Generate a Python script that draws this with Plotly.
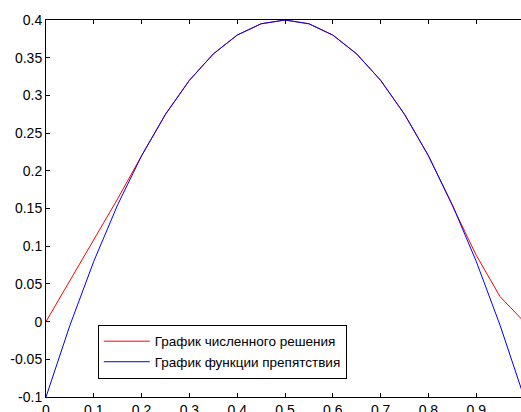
import plotly.graph_objects as go

x_vals = [0.0, 0.05, 0.1, 0.15, 0.2, 0.25, 0.3, 0.35, 0.4, 0.45, 0.5,
          0.55, 0.6, 0.65, 0.7, 0.75, 0.8, 0.85, 0.9, 0.95, 1.0]
numeric_solution = [0.0, 0.054, 0.108, 0.163, 0.22, 0.275, 0.32, 0.355, 0.38, 0.395, 0.4,
                    0.395, 0.38, 0.355, 0.32, 0.275, 0.22, 0.155, 0.088, 0.033, 0.0]
obstacle = [-0.1, -0.005, 0.08, 0.155, 0.22, 0.275, 0.32, 0.355, 0.38, 0.395, 0.4,
            0.395, 0.38, 0.355, 0.32, 0.275, 0.22, 0.155, 0.08, -0.005, -0.1]

x_ticks = [0, 0.1, 0.2, 0.3, 0.4, 0.5, 0.6, 0.7, 0.8, 0.9, 1.0]
x_tick_labels = ["0", "0.1", "0.2", "0.3", "0.4", "0.5", "0.6", "0.7", "0.8", "0.9", "1"]
y_ticks = [-0.1, -0.05, 0, 0.05, 0.1, 0.15, 0.2, 0.25, 0.3, 0.35, 0.4]
y_tick_labels = ["-0.1", "-0.05", "0", "0.05", "0.1", "0.15", "0.2", "0.25", "0.3", "0.35", "0.4"]

series_names = ["График численного решения", "График функции препятствия"]

FONT = "Liberation Sans, Arial, Helvetica, sans-serif"

fig = go.Figure()
fig.add_trace(go.Scatter(x=x_vals, y=numeric_solution, mode="lines", name=series_names[0],
                         line=dict(color="#ff0000", width=1)))
fig.add_trace(go.Scatter(x=x_vals, y=obstacle, mode="lines", name=series_names[1],
                         line=dict(color="#0000ff", width=1)))

fig.update_layout(
    width=521, height=412,
    margin=dict(l=46, r=0, t=20, b=15, autoexpand=False),
    paper_bgcolor="white", plot_bgcolor="white",
    font=dict(family=FONT, size=14, color="black"),
    showlegend=True,
    legend=dict(x=0.109, y=0.048, xanchor="left", yanchor="bottom",
                bgcolor="white", bordercolor="black", borderwidth=1,
                itemwidth=46,
                font=dict(family=FONT, size=13.5, color="black"),
                tracegroupgap=0),
    xaxis=dict(range=[0, 0.9937], tickvals=x_ticks, ticktext=x_tick_labels,
               showgrid=False, zeroline=False, showline=True, linecolor="black", linewidth=1,
               mirror="ticks", ticks="inside", ticklen=4, tickcolor="black",
               ticklabelstandoff=0, automargin=False),
    yaxis=dict(range=[-0.1, 0.4], tickvals=y_ticks, ticktext=y_tick_labels,
               showgrid=False, zeroline=False, showline=True, linecolor="black", linewidth=1,
               ticks="inside", ticklen=4, tickcolor="black", automargin=False),
    yaxis2=dict(range=[-0.1, 0.4], overlaying="y", side="right", tickvals=y_ticks,
                showticklabels=False, showgrid=False, zeroline=False, showline=False,
                ticks="inside", ticklen=3, tickcolor="black", automargin=False),
)

fig.write_html("out.html")
